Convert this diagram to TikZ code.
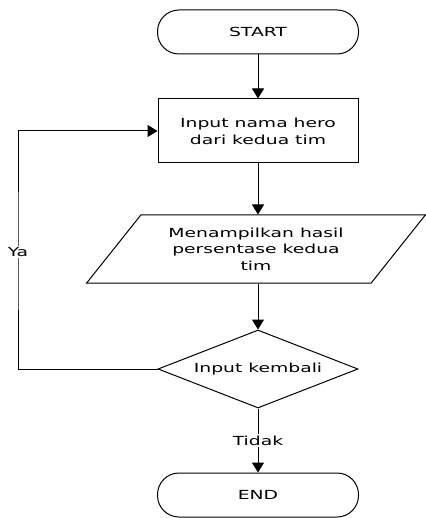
\documentclass[tikz,border=0pt]{standalone}
\usepackage{fontspec}
\setmainfont{DejaVu Sans}[FakeStretch=1.5]
\usetikzlibrary{shapes.geometric, arrows.meta}

\begin{document}
\begin{tikzpicture}[x = 1pt, y = 1pt, line width = 1pt, font = \fontsize{12.5}{17}\selectfont,
  terminal/.style = {draw, rectangle, rounded corners = 21.5pt, minimum width = 201pt, minimum height = 44pt},
  process/.style = {draw, rectangle, minimum width = 200pt, minimum height = 64pt, align = center},
  io/.style = {draw, trapezium, trapezium left angle = 49, trapezium right angle = 131,
    trapezium stretches = true, minimum width = 339pt, minimum height = 68pt, align = center,
    font = \fontsize{12.5}{16.5}\selectfont},
  decision/.style = {draw, diamond, aspect = 2.56, inner sep = 1pt, minimum width = 200pt, minimum height = 78pt},
  flow/.style = {-{Triangle[width = 12pt, length = 10pt]}},
  lbl/.style = {fill = white, inner sep = 1.5pt}]
\useasboundingbox (0, 0) rectangle (425, -518);

\node [terminal] (start) at (258, -32)   {START};
\node [process]  (input) at (258, -131)  {Input nama hero\\dari kedua tim};
\node [io]       (show)  at (256, -249)  {Menampilkan hasil\\persentase kedua\\tim};
\node [decision] (again) at (258, -369)  {Input kembali};
\node [terminal] (stop)  at (258, -495)  {END};
\coordinate (back) at (18, -252);

\draw [flow] (start) -- (input);
\draw [flow] (input) -- (input |- show.north);
\draw [flow] (input |- show.south) -- (again);
\draw [flow] (again) -- node [lbl] {Tidak} (stop);
\draw [flow] (again.west) -| (back) node [lbl] {Ya} |- (input.west);
\end{tikzpicture}
\end{document}
